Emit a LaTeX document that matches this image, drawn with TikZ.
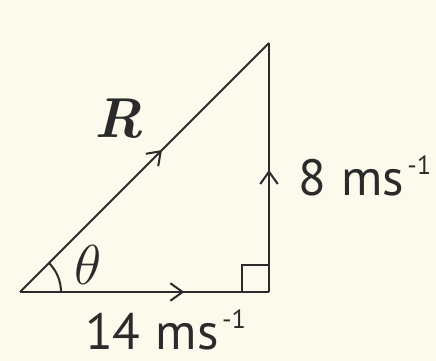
\RequirePackage{fix-cm}
\documentclass[tikz,border=0pt]{standalone}
\usepackage{fontspec}
\setsansfont{PT Sans}
\usetikzlibrary{arrows.meta, decorations.markings}
\definecolor{cpaper}{HTML}{FBFAEC}
\definecolor{cink}{HTML}{2B2B2B}
\tikzset{
  every picture/.style={line width=1.15pt},
  barb/.tip={Straight Barb[length=7pt, width=10pt]},
  side/.style={draw=cink, postaction={decorate},
    decoration={markings, mark=at position #1 with {\arrow{barb}}}},
  speed/.style={font=\sffamily\fontsize{29}{32}\selectfont, text=cink, inner sep=0pt},
  sym/.style={font=\fontsize{32}{36}\selectfont, text=cink, inner sep=0pt},
}
\newcommand{\perSec}{\hspace{0.3em}ms{\fontsize{15}{15}\selectfont\hspace{2pt}\raisebox{12pt}{-1}}}

\begin{document}
\begin{tikzpicture}[x=0.02cm, y=0.02cm]
  \fill[cpaper] (0,0) rectangle (436,361);
  \useasboundingbox (0,0) rectangle (436,361);
  % corners of the triangle
  \coordinate (A) at (20,69);
  \coordinate (B) at (269,69);
  \coordinate (C) at (269,318);
  \draw[side=0.66] (A) -- (B);
  \draw[side=0.49] (B) -- (C);
  \draw[side=0.57] (A) -- (C);
  % right angle and angle mark
  \draw[cink] (B) ++(-27,0) |- ++(27,27);
  \draw[cink] (A) ++(41,0) arc (0:45:41);
  \node[sym] (theta) at (88.5,96) {$\theta$};
  \node[sym] (R) at (119,242) {\bfseries\itshape R};
  \node[speed, anchor=base west] (vx) at (84,11) {14\perSec};
  \node[speed, anchor=base west] (vy) at (297,165) {8\perSec};
\end{tikzpicture}
\end{document}
